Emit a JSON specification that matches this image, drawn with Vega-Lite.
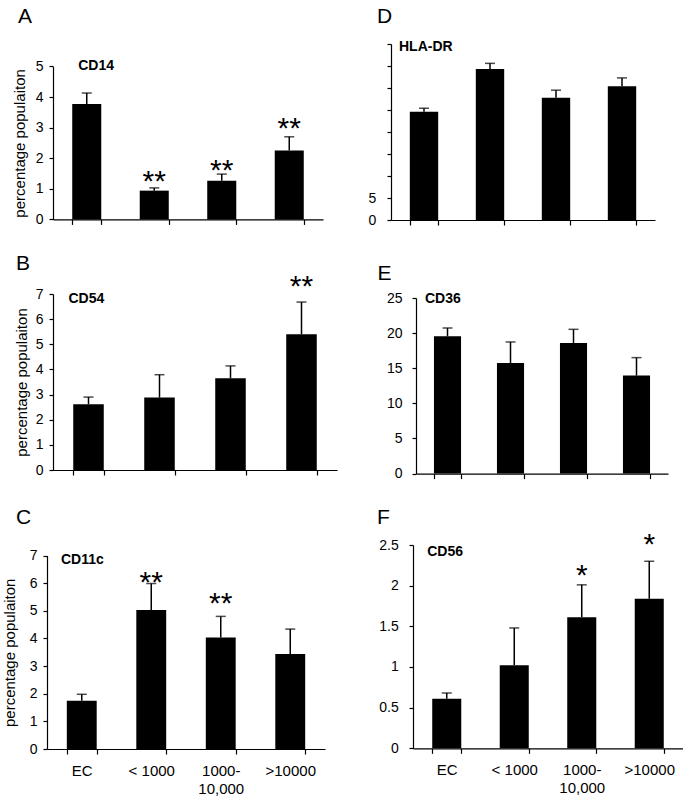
{
  "$schema": "https://vega.github.io/schema/vega-lite/v6.json",
  "padding": {"left": 2, "top": 5, "right": 0, "bottom": 0},
  "background": "white",
  "config": {
    "font": "Liberation Sans",
    "view": {"stroke": null},
    "axis": {"domainColor": "black", "domainWidth": 1.2, "tickColor": "black", "tickWidth": 1.2, "labelColor": "black", "titleColor": "black", "grid": false, "labelFont": "Liberation Sans", "titleFont": "Liberation Sans", "labelFontSize": 14, "titleFontSize": 15, "titleFontWeight": "normal"},
    "axisX": {"tickSize": 5, "tickBand": "extent", "labelFontSize": 15, "labelAngle": 0, "labelBaseline": "top", "labelPadding": 9, "labelLineHeight": 18},
    "axisY": {"tickSize": 4, "labelPadding": 6},
    "title": {"fontSize": 21, "fontWeight": "normal", "anchor": "start", "frame": "bounds", "color": "black", "font": "Liberation Sans"}
  },
  "columns": 2,
  "align": "each",
  "spacing": {"row": 25, "column": 31},
  "concat": [
    {
      "width": 276, "height": 175.4,
      "title": {"text": "A", "offset": 17.3, "dx": 6},
      "data": {"values": [
        {"g": "EC", "v": 3.77, "hi": 4.13},
        {"g": "< 1000", "v": 0.94, "hi": 1.03, "sy": 1.51, "star": "**"},
        {"g": "1000-10,000", "v": 1.26, "hi": 1.48, "sy": 1.88, "star": "**"},
        {"g": ">10000", "v": 2.25, "hi": 2.7, "sy": 3.25, "star": "**"}
      ]},
      "encoding": {"x": {"field": "g", "type": "nominal", "scale": {"domain": ["EC", "< 1000", "1000-10,000", ">10000"], "range": [6, 276], "paddingInner": 0.57, "paddingOuter": 0.285}, "axis": {"title": null, "labels": false}}},
      "layer": [
        {"mark": {"type": "bar", "color": "black"}, "encoding": {"y": {"field": "v", "type": "quantitative", "title": "percentage populaiton", "scale": {"domain": [0, 5], "nice": false, "range": [175.4, 22.4]}, "axis": {"values": [0, 1, 2, 3, 4, 5], "titlePadding": 8.2, "offset": -6}}}},
        {"mark": {"type": "rule", "color": "black", "strokeWidth": 1.5}, "encoding": {"y": {"field": "v", "type": "quantitative", "title": "percentage populaiton", "scale": {"domain": [0, 5], "nice": false, "range": [175.4, 22.4]}, "axis": {"values": [0, 1, 2, 3, 4, 5], "titlePadding": 8.2, "offset": -6}}, "y2": {"field": "hi"}}},
        {"mark": {"type": "tick", "color": "black", "size": 10, "thickness": 1.5}, "encoding": {"y": {"field": "hi", "type": "quantitative", "title": "percentage populaiton", "scale": {"domain": [0, 5], "nice": false, "range": [175.4, 22.4]}, "axis": {"values": [0, 1, 2, 3, 4, 5], "titlePadding": 8.2, "offset": -6}}}},
        {"transform": [{"filter": "isValid(datum.star)"}], "mark": {"type": "text", "fontSize": 30, "baseline": "middle", "dy": 9, "color": "black"}, "encoding": {"y": {"field": "sy", "type": "quantitative", "title": "percentage populaiton", "scale": {"domain": [0, 5], "nice": false, "range": [175.4, 22.4]}, "axis": {"values": [0, 1, 2, 3, 4, 5], "titlePadding": 8.2, "offset": -6}}, "text": {"field": "star"}}},
        {"data": {"values": [{"g": "EC", "y": 5, "name": "CD14"}]}, "mark": {"type": "text", "fontSize": 14, "fontWeight": "bold", "align": "left", "baseline": "middle", "dx": -8.5, "color": "black"}, "encoding": {"y": {"field": "y", "type": "quantitative", "title": "percentage populaiton", "scale": {"domain": [0, 5], "nice": false, "range": [175.4, 22.4]}, "axis": {"values": [0, 1, 2, 3, 4, 5], "titlePadding": 8.2, "offset": -6}}, "text": {"field": "name"}}}
      ]
    },
    {
      "width": 264, "height": 176,
      "title": {"text": "D", "offset": 13, "dx": 9},
      "data": {"values": [
        {"g": "EC", "v": 24.6, "hi": 25.4},
        {"g": "< 1000", "v": 34.3, "hi": 35.6},
        {"g": "1000-10,000", "v": 27.8, "hi": 29.5},
        {"g": ">10000", "v": 30.4, "hi": 32.3}
      ]},
      "encoding": {"x": {"field": "g", "type": "nominal", "scale": {"domain": ["EC", "< 1000", "1000-10,000", ">10000"], "paddingInner": 0.57, "paddingOuter": 0.285}, "axis": {"title": null, "labels": false}}},
      "layer": [
        {"mark": {"type": "bar", "color": "black"}, "encoding": {"y": {"field": "v", "type": "quantitative", "title": null, "scale": {"domain": [0, 40], "nice": false}, "axis": {"values": [0, 5, 10, 15, 20, 25, 30, 35, 40], "labelPadding": 11.2, "labelExpr": "datum.value <= 5 ? datum.label : ''"}}}},
        {"mark": {"type": "rule", "color": "black", "strokeWidth": 1.5}, "encoding": {"y": {"field": "v", "type": "quantitative", "title": null, "scale": {"domain": [0, 40], "nice": false}, "axis": {"values": [0, 5, 10, 15, 20, 25, 30, 35, 40], "labelPadding": 11.2, "labelExpr": "datum.value <= 5 ? datum.label : ''"}}, "y2": {"field": "hi"}}},
        {"mark": {"type": "tick", "color": "black", "size": 10, "thickness": 1.5}, "encoding": {"y": {"field": "hi", "type": "quantitative", "title": null, "scale": {"domain": [0, 40], "nice": false}, "axis": {"values": [0, 5, 10, 15, 20, 25, 30, 35, 40], "labelPadding": 11.2, "labelExpr": "datum.value <= 5 ? datum.label : ''"}}}},
        {"data": {"values": [{"g": "EC", "y": 39.4, "name": "HLA-DR"}]}, "mark": {"type": "text", "fontSize": 14, "fontWeight": "bold", "align": "left", "baseline": "middle", "dx": -25, "color": "black"}, "encoding": {"y": {"field": "y", "type": "quantitative", "title": null, "scale": {"domain": [0, 40], "nice": false}, "axis": {"values": [0, 5, 10, 15, 20, 25, 30, 35, 40], "labelPadding": 11.2, "labelExpr": "datum.value <= 5 ? datum.label : ''"}}, "text": {"field": "name"}}}
      ]
    },
    {
      "width": 290, "height": 176,
      "title": {"text": "B", "offset": -1.2, "dx": 2},
      "data": {"values": [
        {"g": "EC", "v": 2.62, "hi": 2.9},
        {"g": "< 1000", "v": 2.88, "hi": 3.79},
        {"g": "1000-10,000", "v": 3.65, "hi": 4.14},
        {"g": ">10000", "v": 5.4, "hi": 6.68, "sy": 7.62, "star": "**"}
      ]},
      "encoding": {"x": {"field": "g", "type": "nominal", "scale": {"domain": ["EC", "< 1000", "1000-10,000", ">10000"], "range": [6, 290], "paddingInner": 0.57, "paddingOuter": 0.285}, "axis": {"title": null, "labels": false}}},
      "layer": [
        {"mark": {"type": "bar", "color": "black"}, "encoding": {"y": {"field": "v", "type": "quantitative", "title": "percentage populaiton", "scale": {"domain": [0, 7], "nice": false}, "axis": {"values": [0, 1, 2, 3, 4, 5, 6, 7], "titlePadding": 6.2, "offset": -6}}}},
        {"mark": {"type": "rule", "color": "black", "strokeWidth": 1.5}, "encoding": {"y": {"field": "v", "type": "quantitative", "title": "percentage populaiton", "scale": {"domain": [0, 7], "nice": false}, "axis": {"values": [0, 1, 2, 3, 4, 5, 6, 7], "titlePadding": 6.2, "offset": -6}}, "y2": {"field": "hi"}}},
        {"mark": {"type": "tick", "color": "black", "size": 10, "thickness": 1.5}, "encoding": {"y": {"field": "hi", "type": "quantitative", "title": "percentage populaiton", "scale": {"domain": [0, 7], "nice": false}, "axis": {"values": [0, 1, 2, 3, 4, 5, 6, 7], "titlePadding": 6.2, "offset": -6}}}},
        {"transform": [{"filter": "isValid(datum.star)"}], "mark": {"type": "text", "fontSize": 30, "baseline": "middle", "dy": 9, "color": "black"}, "encoding": {"y": {"field": "sy", "type": "quantitative", "title": "percentage populaiton", "scale": {"domain": [0, 7], "nice": false}, "axis": {"values": [0, 1, 2, 3, 4, 5, 6, 7], "titlePadding": 6.2, "offset": -6}}, "text": {"field": "star"}}},
        {"data": {"values": [{"g": "EC", "y": 6.82, "name": "CD54"}]}, "mark": {"type": "text", "fontSize": 14, "fontWeight": "bold", "align": "left", "baseline": "middle", "dx": -20, "color": "black"}, "encoding": {"y": {"field": "y", "type": "quantitative", "title": "percentage populaiton", "scale": {"domain": [0, 7], "nice": false}, "axis": {"values": [0, 1, 2, 3, 4, 5, 6, 7], "titlePadding": 6.2, "offset": -6}}, "text": {"field": "name"}}}
      ]
    },
    {
      "width": 277, "height": 179.6,
      "title": {"text": "E", "offset": 6.7, "dx": -9},
      "data": {"values": [
        {"g": "EC", "v": 19.54, "hi": 20.73},
        {"g": "< 1000", "v": 15.75, "hi": 18.74},
        {"g": "1000-10,000", "v": 18.6, "hi": 20.54},
        {"g": ">10000", "v": 13.95, "hi": 16.51}
      ]},
      "encoding": {"x": {"field": "g", "type": "nominal", "scale": {"domain": ["EC", "< 1000", "1000-10,000", ">10000"], "range": [25, 277], "paddingInner": 0.57, "paddingOuter": 0.285}, "axis": {"title": null, "labels": false}}},
      "layer": [
        {"mark": {"type": "bar", "color": "black"}, "encoding": {"y": {"field": "v", "type": "quantitative", "title": null, "scale": {"domain": [0, 25], "nice": false, "range": [179.6, 4]}, "axis": {"values": [0, 5, 10, 15, 20, 25], "labelPadding": 10, "offset": -25}}}},
        {"mark": {"type": "rule", "color": "black", "strokeWidth": 1.5}, "encoding": {"y": {"field": "v", "type": "quantitative", "title": null, "scale": {"domain": [0, 25], "nice": false, "range": [179.6, 4]}, "axis": {"values": [0, 5, 10, 15, 20, 25], "labelPadding": 10, "offset": -25}}, "y2": {"field": "hi"}}},
        {"mark": {"type": "tick", "color": "black", "size": 10, "thickness": 1.5}, "encoding": {"y": {"field": "hi", "type": "quantitative", "title": null, "scale": {"domain": [0, 25], "nice": false, "range": [179.6, 4]}, "axis": {"values": [0, 5, 10, 15, 20, 25], "labelPadding": 10, "offset": -25}}}},
        {"data": {"values": [{"g": "EC", "y": 24.8, "name": "CD36"}]}, "mark": {"type": "text", "fontSize": 14, "fontWeight": "bold", "align": "left", "baseline": "middle", "dx": -22.5, "color": "black"}, "encoding": {"y": {"field": "y", "type": "quantitative", "title": null, "scale": {"domain": [0, 25], "nice": false, "range": [179.6, 4]}, "axis": {"values": [0, 5, 10, 15, 20, 25], "labelPadding": 10, "offset": -25}}, "text": {"field": "name"}}}
      ]
    },
    {
      "width": 278, "height": 204,
      "title": {"text": "C", "offset": 17.4, "dx": 14},
      "data": {"values": [
        {"g": "EC", "v": 1.75, "hi": 1.98},
        {"g": "< 1000", "v": 5.03, "hi": 5.99, "sy": 6.35, "star": "**"},
        {"g": "1000-10,000", "v": 4.04, "hi": 4.8, "sy": 5.58, "star": "**"},
        {"g": ">10000", "v": 3.44, "hi": 4.34}
      ]},
      "encoding": {"x": {"field": "g", "type": "nominal", "scale": {"domain": ["EC", "< 1000", "1000-10,000", ">10000"], "paddingInner": 0.57, "paddingOuter": 0.285}, "axis": {"title": null, "labelExpr": "datum.label == '1000-10,000' ? ['1000-', '10,000'] : datum.label"}}},
      "layer": [
        {"mark": {"type": "bar", "color": "black"}, "encoding": {"y": {"field": "v", "type": "quantitative", "title": "percentage populaiton", "scale": {"domain": [0, 7], "nice": false, "range": [204, 10.6]}, "axis": {"values": [0, 1, 2, 3, 4, 5, 6, 7], "titlePadding": 12.2}}}},
        {"mark": {"type": "rule", "color": "black", "strokeWidth": 1.5}, "encoding": {"y": {"field": "v", "type": "quantitative", "title": "percentage populaiton", "scale": {"domain": [0, 7], "nice": false, "range": [204, 10.6]}, "axis": {"values": [0, 1, 2, 3, 4, 5, 6, 7], "titlePadding": 12.2}}, "y2": {"field": "hi"}}},
        {"mark": {"type": "tick", "color": "black", "size": 10, "thickness": 1.5}, "encoding": {"y": {"field": "hi", "type": "quantitative", "title": "percentage populaiton", "scale": {"domain": [0, 7], "nice": false, "range": [204, 10.6]}, "axis": {"values": [0, 1, 2, 3, 4, 5, 6, 7], "titlePadding": 12.2}}}},
        {"transform": [{"filter": "isValid(datum.star)"}], "mark": {"type": "text", "fontSize": 30, "baseline": "middle", "dy": 9, "color": "black"}, "encoding": {"y": {"field": "sy", "type": "quantitative", "title": "percentage populaiton", "scale": {"domain": [0, 7], "nice": false, "range": [204, 10.6]}, "axis": {"values": [0, 1, 2, 3, 4, 5, 6, 7], "titlePadding": 12.2}}, "text": {"field": "star"}}},
        {"data": {"values": [{"g": "EC", "y": 6.85, "name": "CD11c"}]}, "mark": {"type": "text", "fontSize": 14, "fontWeight": "bold", "align": "left", "baseline": "middle", "dx": -20.75, "color": "black"}, "encoding": {"y": {"field": "y", "type": "quantitative", "title": "percentage populaiton", "scale": {"domain": [0, 7], "nice": false, "range": [204, 10.6]}, "axis": {"values": [0, 1, 2, 3, 4, 5, 6, 7], "titlePadding": 12.2}}, "text": {"field": "name"}}}
      ]
    },
    {
      "width": 292, "height": 203.3,
      "title": {"text": "F", "offset": 2.5, "dx": -1.8},
      "data": {"values": [
        {"g": "EC", "v": 0.61, "hi": 0.68},
        {"g": "< 1000", "v": 1.02, "hi": 1.48},
        {"g": "1000-10,000", "v": 1.61, "hi": 2.01, "sy": 2.23, "star": "*"},
        {"g": ">10000", "v": 1.84, "hi": 2.3, "sy": 2.61, "star": "*"}
      ]},
      "encoding": {"x": {"field": "g", "type": "nominal", "scale": {"domain": ["EC", "< 1000", "1000-10,000", ">10000"], "range": [22, 292], "paddingInner": 0.57, "paddingOuter": 0.285}, "axis": {"title": null, "labelExpr": "datum.label == '1000-10,000' ? ['1000-', '10,000'] : datum.label"}}},
      "layer": [
        {"mark": {"type": "bar", "color": "black"}, "encoding": {"y": {"field": "v", "type": "quantitative", "title": null, "scale": {"domain": [0, 2.5], "nice": false}, "axis": {"values": [0, 0.5, 1, 1.5, 2, 2.5], "format": "~g", "labelPadding": 10.7, "offset": -22}}}},
        {"mark": {"type": "rule", "color": "black", "strokeWidth": 1.5}, "encoding": {"y": {"field": "v", "type": "quantitative", "title": null, "scale": {"domain": [0, 2.5], "nice": false}, "axis": {"values": [0, 0.5, 1, 1.5, 2, 2.5], "format": "~g", "labelPadding": 10.7, "offset": -22}}, "y2": {"field": "hi"}}},
        {"mark": {"type": "tick", "color": "black", "size": 10, "thickness": 1.5}, "encoding": {"y": {"field": "hi", "type": "quantitative", "title": null, "scale": {"domain": [0, 2.5], "nice": false}, "axis": {"values": [0, 0.5, 1, 1.5, 2, 2.5], "format": "~g", "labelPadding": 10.7, "offset": -22}}}},
        {"transform": [{"filter": "isValid(datum.star)"}], "mark": {"type": "text", "fontSize": 30, "baseline": "middle", "dy": 9, "color": "black"}, "encoding": {"y": {"field": "sy", "type": "quantitative", "title": null, "scale": {"domain": [0, 2.5], "nice": false}, "axis": {"values": [0, 0.5, 1, 1.5, 2, 2.5], "format": "~g", "labelPadding": 10.7, "offset": -22}}, "text": {"field": "star"}}},
        {"data": {"values": [{"g": "EC", "y": 2.42, "name": "CD56"}]}, "mark": {"type": "text", "fontSize": 14, "fontWeight": "bold", "align": "left", "baseline": "middle", "dx": -19.5, "color": "black"}, "encoding": {"y": {"field": "y", "type": "quantitative", "title": null, "scale": {"domain": [0, 2.5], "nice": false}, "axis": {"values": [0, 0.5, 1, 1.5, 2, 2.5], "format": "~g", "labelPadding": 10.7, "offset": -22}}, "text": {"field": "name"}}}
      ]
    }
  ]
}
